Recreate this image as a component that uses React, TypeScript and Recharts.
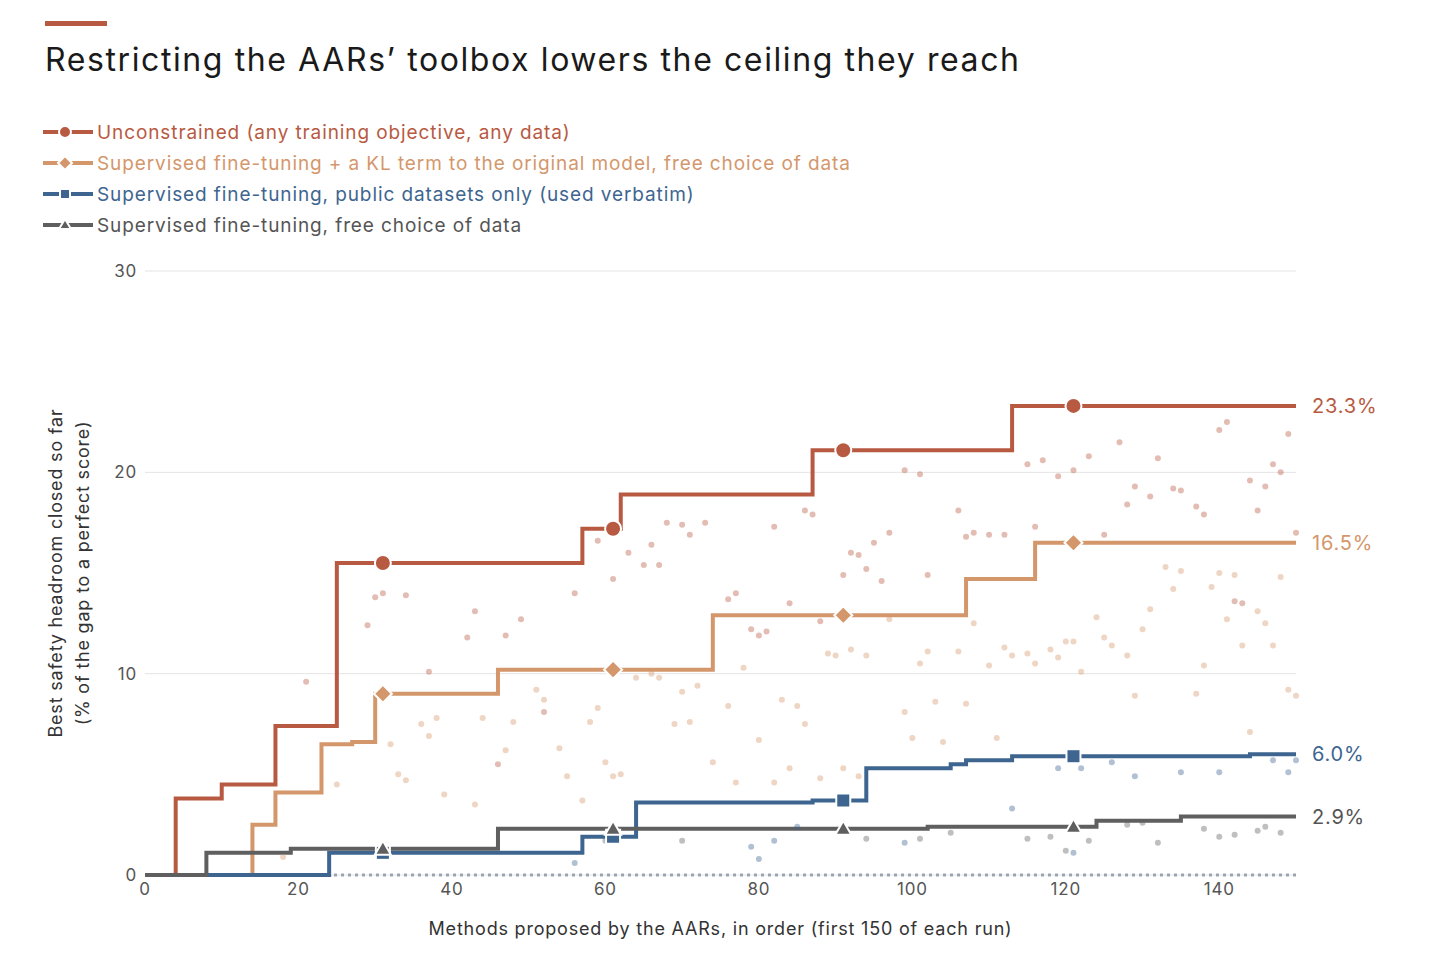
import { ComposedChart, Line, Scatter, XAxis, YAxis, CartesianGrid, ReferenceLine, ReferenceDot } from 'recharts'

const RED = '#b85a42'
const TAN = '#d4976c'
const BLUE = '#3d6590'
const GRAY = '#5f5f5f'

// step values: [x, best so far]
const unconstrained = [[0, 0], [4, 3.8], [10, 4.5], [17, 7.4], [25, 15.5], [57, 17.2], [62, 18.9], [87, 21.1], [113, 23.3], [150, 23.3]]
const sftKl = [[0, 0], [14, 2.5], [17, 4.1], [23, 6.5], [27, 6.6], [30, 9.0], [46, 10.2], [74, 12.9], [107, 14.7], [116, 16.5], [150, 16.5]]
const sftPublic = [[0, 0], [24, 1.1], [57, 1.9], [64, 3.6], [87, 3.7], [94, 5.3], [105, 5.5], [107, 5.7], [113, 5.9], [144, 6.0], [150, 6.0]]
const sftFree = [[0, 0], [8, 1.1], [19, 1.3], [46, 2.3], [102, 2.4], [124, 2.7], [135, 2.9], [150, 2.9]]

const markerX = [31, 61, 91, 121]

const redDots = [[21, 9.6], [29, 12.4], [30, 13.8], [31, 14], [34, 13.9], [37, 10.1], [42, 11.8], [43, 13.1], [46, 5.5], [47, 11.9], [49, 12.7], [52, 8.1], [56, 14], [59, 16.6], [61, 14.7], [63, 16], [65, 15.4], [66, 16.4], [67, 15.4], [68, 17.5], [70, 17.4], [71, 16.9], [73, 17.5], [76, 13.7], [77, 14.0], [79, 12.2], [80, 11.9], [81, 12.1], [82, 17.3], [84, 13.5], [86, 18.1], [87, 17.9], [88, 12.6], [91, 14.9], [92, 16], [93, 15.9], [94, 15.2], [95, 16.5], [96, 14.6], [97, 17], [99, 20.1], [101, 19.9], [102, 14.9], [106, 18.1], [107, 16.8], [108, 17], [110, 16.9], [112, 16.9], [115, 20.4], [116, 17.3], [117, 20.6], [119, 19.8], [121, 20.1], [123, 20.8], [125, 16.9], [127, 21.5], [128, 18.4], [129, 19.3], [131, 18.8], [132, 20.7], [134, 19.2], [135, 19.1], [137, 18.3], [138, 17.9], [140, 22.1], [141, 22.5], [142, 13.6], [143, 13.5], [144, 19.6], [145, 18.1], [146, 19.3], [147, 20.4], [148, 20], [149, 21.9], [150, 17]]
const tanDots = [[18, 0.9], [25, 4.5], [32, 6.5], [33, 5.0], [34, 4.7], [36, 7.5], [37, 6.9], [38, 7.8], [39, 4], [43, 3.5], [44, 7.8], [47, 6.2], [48, 7.6], [51, 9.2], [52, 8.7], [54, 6.3], [55, 4.9], [57, 3.7], [58, 7.6], [59, 8.3], [60, 5.6], [61, 4.9], [62, 5.0], [64, 9.8], [66, 10.0], [67, 9.8], [69, 7.5], [70, 9.1], [71, 7.6], [72, 9.4], [74, 5.6], [76, 8.4], [77, 4.6], [78, 10.3], [80, 6.7], [82, 4.6], [83, 8.7], [84, 5.3], [85, 8.4], [86, 7.5], [88, 4.8], [89, 11], [90, 10.9], [91, 5.3], [92, 11.2], [93, 4.9], [94, 10.9], [97, 12.7], [99, 8.1], [100, 6.8], [101, 10.5], [102, 11.1], [103, 8.6], [104, 6.6], [106, 11.1], [107, 8.5], [108, 12.5], [110, 10.4], [111, 6.8], [112, 11.3], [113, 10.9], [115, 11.0], [116, 10.5], [118, 11.2], [119, 10.8], [120, 11.6], [121, 11.6], [122, 10.1], [124, 12.8], [125, 11.8], [126, 11.4], [128, 10.9], [129, 8.9], [130, 12.2], [131, 13.2], [133, 15.3], [134, 14.2], [135, 15.1], [137, 9.0], [138, 10.4], [139, 14.3], [140, 15.0], [141, 12.7], [142, 14.9], [143, 11.4], [144, 7.1], [145, 13.1], [146, 12.5], [147, 11.4], [148, 14.8], [149, 9.2], [150, 8.9]]
const blueDots = [[56, 0.6], [79, 1.4], [80, 0.8], [82, 1.7], [85, 2.4], [99, 1.6], [113, 3.3], [119, 5.3], [121, 1.1], [122, 5.3], [126, 5.6], [129, 4.9], [135, 5.1], [140, 5.1], [147, 5.7], [149, 5.1], [150, 5.7]]
const grayDots = [[60, 1.7], [70, 1.7], [94, 1.8], [101, 1.8], [105, 2.1], [115, 1.8], [118, 1.9], [120, 1.2], [123, 1.7], [128, 2.5], [130, 2.6], [132, 1.6], [138, 2.3], [140, 1.9], [142, 2.0], [145, 2.2], [146, 2.4], [148, 2.1]]

const xTicks = [0, 20, 40, 60, 80, 100, 120, 140]
const yTicks = [0, 10, 20, 30]

const series = [
  { name: 'Unconstrained (any training objective, any data)', color: RED, steps: unconstrained, dots: redDots, shape: 'circle', end: '23.3%' },
  { name: 'Supervised fine-tuning + a KL term to the original model, free choice of data', color: TAN, steps: sftKl, dots: tanDots, shape: 'diamond', end: '16.5%' },
  { name: 'Supervised fine-tuning, public datasets only (used verbatim)', color: BLUE, steps: sftPublic, dots: blueDots, shape: 'square', end: '6.0%' },
  { name: 'Supervised fine-tuning, free choice of data', color: GRAY, steps: sftFree, dots: grayDots, shape: 'triangle', end: '2.9%' },
]

const toPts = (arr: number[][]) => arr.map(([x, y]) => ({ x, y }))

function valueAt(steps: number[][], x: number) {
  let v = 0
  for (const [sx, sy] of steps) if (sx <= x) v = sy
  return v
}

function Marker({ cx, cy, color, shape, size = 8 }: any) {
  const s = size
  if (shape === 'circle') return <circle cx={cx} cy={cy} r={s} fill={color} stroke="#fff" strokeWidth={2} />
  if (shape === 'diamond') return <polygon points={`${cx},${cy - s - 1} ${cx + s + 1},${cy} ${cx},${cy + s + 1} ${cx - s - 1},${cy}`} fill={color} stroke="#fff" strokeWidth={2} />
  if (shape === 'square') return <rect x={cx - s + 1} y={cy - s + 1} width={2 * s - 2} height={2 * s - 2} fill={color} stroke="#fff" strokeWidth={2} />
  return <polygon points={`${cx},${cy - s} ${cx + s},${cy + s - 2} ${cx - s},${cy + s - 2}`} fill={color} stroke="#fff" strokeWidth={2} />
}

export default function App() {
  const font = 'Inter, "DejaVu Sans", sans-serif'
  return (
    <div style={{ position: 'absolute', left: 0, top: 0, width: 1440, height: 967, background: '#fff', fontFamily: font }}>
      <div style={{ position: 'absolute', left: 45, top: 21, width: 62, height: 5, background: RED }} />
      <div style={{ position: 'absolute', left: 45, top: 40, fontSize: 32, color: '#1a1a1a', letterSpacing: 1.6 }}>
        Restricting the AARs’ toolbox lowers the ceiling they reach
      </div>
      {series.map((s, i) => (
        <div key={s.name} style={{ position: 'absolute', left: 41, top: 120 + i * 31, display: 'flex', alignItems: 'center', fontSize: 19, letterSpacing: 0.9, color: s.color }}>
          <svg width={54} height={24}>
            <line x1={2} y1={12} x2={52} y2={12} stroke={s.color} strokeWidth={4} />
            <Marker cx={24} cy={12} color={s.color} shape={s.shape} size={6} />
          </svg>
          <span style={{ marginLeft: 2, color: i === 3 ? '#555' : s.color }}>{s.name}</span>
        </div>
      ))}
      <div style={{ position: 'absolute', left: 69, top: 573, transform: 'translate(-50%, -50%) rotate(-90deg)', whiteSpace: 'nowrap', textAlign: 'center', fontSize: 18, letterSpacing: 0.8, color: '#333', lineHeight: '27px' }}>
        Best safety headroom closed so far<br />(% of the gap to a perfect score)
      </div>
      <div style={{ position: 'absolute', left: 0, top: 250, letterSpacing: 0.8 }}>
        <ComposedChart width={1440} height={710} margin={{ top: 21, right: 144, left: 95, bottom: 25 }}>
          <CartesianGrid vertical={false} stroke="#e4e4e4" />
          <XAxis type="number" dataKey="x" domain={[0, 150]} ticks={xTicks} axisLine={false} tickLine={false}
            tick={{ fill: '#555', fontSize: 17 }} height={60}
            label={{ value: 'Methods proposed by the AARs, in order (first 150 of each run)', position: 'insideBottom', offset: 0, fill: '#333', fontSize: 18 }} />
          <YAxis type="number" dataKey="y" domain={[0, 30]} ticks={yTicks} axisLine={false} tickLine={false} tick={{ fill: '#555', fontSize: 17 }} width={50} />
          {series.map(s => (
            <Scatter key={s.name + 'd'} data={toPts(s.dots)} fill={s.color} isAnimationActive={false}
              shape={(p: any) => <circle cx={p.cx} cy={p.cy} r={3} fill={s.color} fillOpacity={0.4} />} />
          ))}
          <ReferenceLine y={0} stroke="#9aa5b1" strokeWidth={3} strokeDasharray="3 4" />
          {series.map(s => (
            <Line key={s.name} data={toPts(s.steps)} dataKey="y" type="stepAfter" stroke={s.color} strokeWidth={4} dot={false} isAnimationActive={false} />
          ))}
          {series.map(s => (
            <Scatter key={s.name + 'm'} data={markerX.map(x => ({ x, y: valueAt(s.steps, x) }))} fill={s.color} isAnimationActive={false}
              shape={(p: any) => <Marker cx={p.cx} cy={p.cy} color={s.color} shape={s.shape} />} />
          ))}
          {series.map(s => (
            <ReferenceDot key={s.name + 'e'} x={150} y={valueAt(s.steps, 150)} r={0} stroke="none"
              label={{ value: s.end, position: 'right', offset: 16, fill: s.color === GRAY ? '#555' : s.color, fontSize: 20 }} />
          ))}
        </ComposedChart>
      </div>
    </div>
  )
}
